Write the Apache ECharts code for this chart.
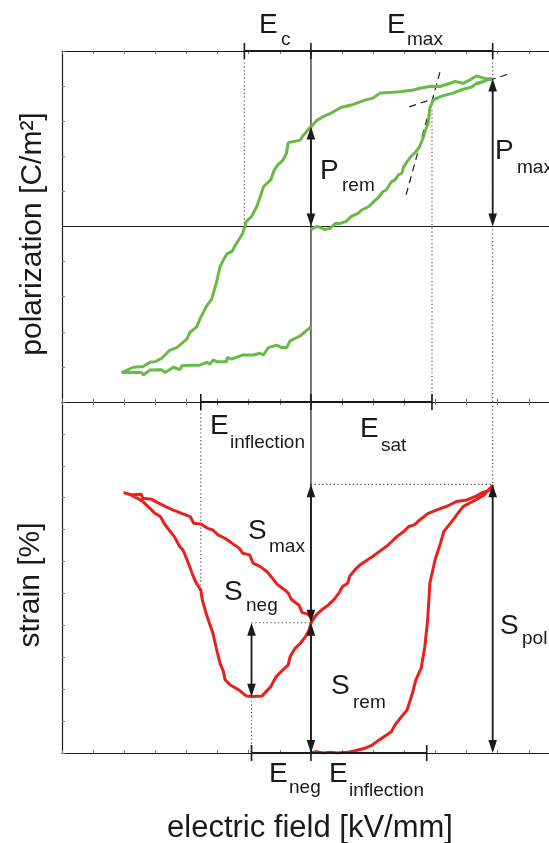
<!DOCTYPE html>
<html>
<head>
<meta charset="utf-8">
<script src="https://cdn.jsdelivr.net/npm/echarts@6/dist/echarts.min.js"></script>
<style>
html, body { margin: 0; padding: 0; background: #fff; }
#chart { width: 549px; height: 843px; }
</style>
</head>
<body>
<div id="chart"></div>
<script>
// field axis is in tick units (0 = E=0), polarization / strain also in tick units
// green P-E loop: start at origin, up to Emax, back to -Emax, back to 0
const polField = [0, 0.11, 0.22, 0.45, 0.62, 0.79, 0.90, 1.12, 1.29, 1.52, 1.63, 1.86, 2.02, 2.19, 2.31, 2.42, 2.59, 2.70, 2.81, 2.92,
  2.98, 3.09, 3.21, 3.37, 3.49, 3.60, 3.66, 3.77, 3.82, 3.93, 4.16, 4.36, 4.56, 4.89, 5.17, 5.32, 5.57, 5.81,
  5.64, 5.32, 5.11, 4.89, 4.63, 4.47, 4.14, 3.82, 3.50, 3.29, 2.86, 2.54, 2.22, 1.97, 1.74, 1.29, 0.96, 0.67, 0.39, 0.17, 0.06,
  -0.06, -0.28, -0.34, -0.73, -0.79, -0.90, -1.07, -1.18, -1.29, -1.52, -1.63, -1.74, -1.91, -2.08, -2.19, -2.42, -2.53, -2.70,
  -2.81, -2.92, -3.04, -3.19, -3.35, -3.57, -3.67, -3.89, -3.99, -4.31, -4.53, -4.80, -5.01, -5.17, -5.39, -5.71, -6.08,
  -5.44, -5.39, -5.17, -4.80, -4.69, -4.42, -4.21, -4.15, -3.89, -3.57, -3.35, -3.25, -3.14, -3.03, -2.71, -2.69, -2.55,
  -2.18, -1.85, -1.64, -1.53, -1.37, -1.10, -0.94, -0.78, -0.67, -0.35, 0];
const polValue = [-0.09, -0.03, 0, -0.09, -0.05, 0.09, 0.08, 0.14, 0.28, 0.38, 0.47, 0.57, 0.71, 0.85, 0.99, 1.04, 1.28, 1.33, 1.47, 1.52,
  1.70, 1.85, 1.99, 2.13, 2.27, 2.51, 2.70, 2.94, 3.37, 3.61, 3.70, 3.75, 3.80, 3.91, 3.97, 4.08, 4.14, 4.22,
  4.20, 4.29, 4.18, 4.08, 4.13, 4.08, 3.99, 3.99, 3.94, 3.89, 3.84, 3.82, 3.80, 3.65, 3.60, 3.46, 3.39, 3.24, 3.13, 3.01, 2.89,
  2.79, 2.56, 2.46, 2.39, 2.08, 1.89, 1.75, 1.61, 1.33, 1.14, 0.85, 0.57, 0.28, 0.14, -0.19, -0.52, -0.70, -0.78,
  -0.95, -1.14, -1.61, -2.07, -2.26, -2.64, -2.86, -3.02, -3.21, -3.45, -3.52, -3.76, -3.85, -3.87, -3.99, -4.01, -4.16,
  -4.16, -4.23, -4.09, -4.08, -4.16, -4.01, -4.08, -3.97, -3.95, -3.95, -3.87, -3.92, -3.80, -3.85, -3.85, -3.73, -3.78,
  -3.66, -3.66, -3.61, -3.66, -3.45, -3.38, -3.45, -3.45, -3.26, -3.12, -2.86];

// red S-E butterfly, same path order
const strainField = [0, 0.17, 0.39, 0.62, 0.84, 1.18, 1.41, 1.74, 1.97, 2.19, 2.42, 2.59, 2.70, 2.87, 3.09, 3.26, 3.37, 3.54, 3.66, 3.75,
  3.79, 3.82, 3.99, 4.16, 4.27, 4.44, 4.61, 4.72, 4.89, 5.06, 5.29, 5.57, 5.85,
  5.74, 5.46, 5.29, 5.01, 4.67, 4.39, 4.11, 3.77, 3.49, 3.32, 3.15, 2.98, 2.76, 2.59, 2.42, 2.19, 1.97, 1.74, 1.57, 1.41,
  1.24, 1.18, 1.01, 0.90, 0.73, 0.56, 0.34, 0.17, 0.06, 0, -0.06, -0.17, -0.34, -0.51, -0.67, -0.73, -0.96, -1.12, -1.29,
  -1.57, -1.86, -2.08, -2.31, -2.59, -2.76, -2.81, -2.92, -3.04, -3.15, -3.26, -3.37, -3.49, -3.54, -3.71, -3.82, -3.94,
  -4.11, -4.22, -4.39, -4.56, -4.72, -4.84, -5.01, -5.23, -5.40, -5.57, -5.79, -6.02,
  -5.74, -5.46, -5.40, -5.12, -4.89, -4.67, -4.44, -4.16, -3.88, -3.77, -3.54, -3.32, -3.15, -2.98, -2.76, -2.53, -2.31,
  -2.19, -1.97, -1.86, -1.63, -1.41, -1.24, -1.07, -0.84, -0.73, -0.62, -0.39, -0.28, -0.11, 0];
const strainValue = [0, 0.04, 0, 0.02, 0, 0.02, 0.07, 0.15, 0.25, 0.41, 0.56, 0.67, 0.88, 1.09, 1.35, 1.87, 2.29, 2.65, 3.33, 4.17,
  4.80, 5.32, 6.05, 6.57, 6.94, 7.15, 7.36, 7.51, 7.72, 7.81, 7.93, 8.09, 8.40,
  8.24, 8.14, 8.04, 7.93, 7.88, 7.74, 7.64, 7.51, 7.30, 7.15, 7.10, 6.94, 6.78, 6.62, 6.47, 6.31, 6.15, 6.00, 5.89, 5.74,
  5.53, 5.32, 5.21, 5.01, 4.80, 4.64, 4.48, 4.33, 4.17, 4.06, 3.86, 3.65, 3.44, 3.28, 3.02, 2.76, 2.55, 2.39, 2.08,
  1.79, 1.77, 1.79, 1.97, 2.13, 2.29, 2.55, 2.81, 3.28, 3.75, 4.06, 4.38, 4.80, 5.11, 5.37, 5.63, 5.95,
  6.36, 6.47, 6.78, 6.99, 7.20, 7.41, 7.51, 7.72, 7.88, 7.98, 8.09, 8.16,
  8.09, 8.11, 7.98, 7.95, 7.83, 7.72, 7.62, 7.51, 7.41, 7.20, 7.18, 7.04, 6.99, 6.83, 6.73, 6.57, 6.42,
  6.26, 6.21, 5.95, 5.84, 5.68, 5.48, 5.27, 5.11, 5.01, 4.80, 4.64, 4.40, 4.36, 4.27];

// characteristic values marked in the figure
const E_C = -2.14, E_MAX = 5.84, E_SAT = 3.89;
const E_INFL_NEG = -3.54, E_INFL_POS = 3.72, E_NEG = -1.91;
const P_REM = 2.85, P_MAX = 4.22, P_KNEE = 3.32;
const S_MAX = 8.42, S_MID = 4.08, S_NEG = 1.76, S_INFL = 4.89;
const tangentSteep = [3.06, 0.91, 4.18, 4.51];
const tangentFlat = [3.16, 3.41, 6.44, 4.37];

// the field axis runs past the right edge of the picture (frame is cut off there)
const FIELD_MIN = -8, FIELD_MAX = 7.65;

const INK = '#1a1a1a';
const FONT = '"Liberation Sans", Arial, sans-serif';

const zip = (a, b) => a.map((v, i) => [v, b[i]]);

const lineStyles = {
  dotted: { stroke: '#444', lineWidth: 1.1, lineDash: [1.2, 2.6] },
  dashed: { stroke: INK, lineWidth: 1.2, lineDash: [7, 5] },
  thin: { stroke: INK, lineWidth: 1.2 },
  bracket: { stroke: INK, lineWidth: 2.2 },
  arrow: { stroke: INK, lineWidth: 1.8 }
};

function head(tip, from) {
  const dx = tip[0] - from[0], dy = tip[1] - from[1];
  const len = Math.hypot(dx, dy) || 1;
  const ux = dx / len, uy = dy / len;
  const L = 13, W = 4.3;
  const bx = tip[0] - ux * L, by = tip[1] - uy * L;
  return {
    type: 'polygon',
    shape: { points: [[tip[0], tip[1]], [bx - uy * W, by + ux * W], [bx + uy * W, by - ux * W]] },
    style: { fill: INK }
  };
}

function segs(grid, kind, data, z) {
  return {
    type: 'custom', xAxisIndex: grid * 2, yAxisIndex: grid, z: z, silent: true,
    data: data,
    renderItem: function (params, api) {
      if (kind === 'tick') {
        const p = api.coord([api.value(0), api.value(1)]);
        return { type: 'line', shape: { x1: p[0], y1: p[1] - 8, x2: p[0], y2: p[1] + 8 },
          style: { stroke: INK, lineWidth: 1.6 } };
      }
      const a = api.coord([api.value(0), api.value(1)]);
      const b = api.coord([api.value(2), api.value(3)]);
      if (kind !== 'arrow') {
        return { type: 'line', shape: { x1: a[0], y1: a[1], x2: b[0], y2: b[1] }, style: lineStyles[kind] };
      }
      const len = Math.hypot(b[0] - a[0], b[1] - a[1]) || 1;
      const ux = (b[0] - a[0]) / len, uy = (b[1] - a[1]) / len;
      return {
        type: 'group',
        children: [
          { type: 'line', shape: { x1: a[0] + ux * 6, y1: a[1] + uy * 6, x2: b[0] - ux * 6, y2: b[1] - uy * 6 },
            style: lineStyles.arrow },
          head(a, b), head(b, a)
        ]
      };
    }
  };
}

function xAx(grid, pos) {
  return {
    gridIndex: grid, type: 'value', position: pos, min: FIELD_MIN, max: FIELD_MAX, interval: 1,
    axisLine: { show: true, onZero: false, lineStyle: { color: INK, width: 1.2 } },
    axisTick: { show: true, inside: true, length: 3, lineStyle: { color: '#777' } },
    axisLabel: { show: false }, splitLine: { show: false }
  };
}
function yAx(grid, min, max) {
  return {
    gridIndex: grid, type: 'value', min: min, max: max, interval: 1,
    axisLine: { show: true, onZero: false, lineStyle: { color: INK, width: 1.2 } },
    axisTick: { show: true, inside: true, length: 3, lineStyle: { color: '#777' } },
    axisLabel: { show: false }, splitLine: { show: false }
  };
}

// subscripted symbols: [main, sub, x, y, subX, subY]
const symbolLabels = [
  ['E', 'c', 259, 25, 281, 40],
  ['E', 'max', 387, 25, 407, 40],
  ['P', 'rem', 320, 171, 342, 186],
  ['P', 'max', 495, 151, 517, 168],
  ['E', 'inflection', 210, 426, 230, 443],
  ['E', 'sat', 360, 429, 381, 446],
  ['S', 'max', 248, 531, 269, 547],
  ['S', 'neg', 224, 592, 246, 606],
  ['S', 'rem', 331, 686, 353, 703],
  ['S', 'pol', 500, 626, 522, 639],
  ['E', 'neg', 269, 774, 289, 788],
  ['E', 'inflection', 329, 774, 349, 791]
];

const graphic = [];
symbolLabels.forEach(function (s) {
  graphic.push({ type: 'text', x: s[2], y: s[3], silent: true,
    style: { text: s[0], font: '28px ' + FONT, fill: INK, align: 'left', verticalAlign: 'middle',
      textAlign: 'left', textVerticalAlign: 'middle' } });
  graphic.push({ type: 'text', x: s[4], y: s[5], silent: true,
    style: { text: s[1], font: '19px ' + FONT, fill: INK, align: 'left', verticalAlign: 'middle',
      textAlign: 'left', textVerticalAlign: 'middle' } });
});
[['polarization [C/m²]', 33, 234, Math.PI / 2, 30], ['strain [%]', 31, 585, Math.PI / 2, 30],
 ['electric field [kV/mm]', 310, 828, 0, 31]].forEach(function (t) {
  graphic.push({ type: 'text', x: t[1], y: t[2], rotation: t[3], silent: true,
    style: { text: t[0], font: t[4] + 'px ' + FONT, fill: INK, align: 'center', verticalAlign: 'middle',
      textAlign: 'center', textVerticalAlign: 'middle' } });
});

const chart = echarts.init(document.getElementById('chart'), null, { renderer: 'canvas' });
chart.setOption({
  animation: false,
  backgroundColor: '#fff',
  grid: [
    { left: 62, top: 51, right: 0, height: 351 },
    { left: 62, top: 402, right: 0, height: 351 }
  ],
  xAxis: [xAx(0, 'bottom'), xAx(0, 'top'), xAx(1, 'bottom'), xAx(1, 'top')],
  yAxis: [yAx(0, -5, 5), yAx(1, 0, 11)],
  series: [
    // polarization panel guides
    segs(0, 'dotted', [[E_C, 5, E_C, 0], [E_SAT, P_KNEE, E_SAT, -5], [E_MAX, 5, E_MAX, -5]], 1),
    segs(0, 'thin', [[0, 5, 0, -5], [FIELD_MIN, 0, FIELD_MAX, 0]], 1),
    segs(0, 'dashed', [tangentSteep, tangentFlat], 1),
    {
      type: 'line', xAxisIndex: 0, yAxisIndex: 0, data: zip(polField, polValue),
      showSymbol: false, symbol: 'none', z: 2, silent: true,
      lineStyle: { color: '#66bb44', width: 3 }
    },
    segs(0, 'arrow', [[0, 0, 0, P_REM], [E_MAX, 0, E_MAX, P_MAX]], 3),
    segs(0, 'bracket', [[E_C, 5, 0, 5], [0, 5, E_MAX, 5]], 3),
    segs(0, 'tick', [[E_C, 5], [0, 5], [E_MAX, 5]], 3),

    // strain panel guides
    segs(1, 'dotted', [[E_INFL_NEG, 11, E_INFL_NEG, S_INFL], [0, S_MAX, E_MAX, S_MAX], [E_MAX, 11, E_MAX, S_MAX],
      [E_NEG, S_MID, 0, S_MID], [E_NEG, S_NEG, E_NEG, 0]], 1),
    segs(1, 'thin', [[0, 11, 0, 0]], 1),
    {
      type: 'line', xAxisIndex: 2, yAxisIndex: 1, data: zip(strainField, strainValue),
      showSymbol: false, symbol: 'none', z: 2, silent: true,
      lineStyle: { color: '#e8211d', width: 3 }
    },
    segs(1, 'arrow', [[0, S_MID, 0, S_MAX], [0, 0, 0, S_MID], [E_NEG, S_NEG, E_NEG, S_MID], [E_MAX, 0, E_MAX, S_MAX]], 3),
    segs(1, 'bracket', [[E_INFL_NEG, 11, 0, 11], [0, 11, E_SAT, 11], [E_NEG, 0, 0, 0], [0, 0, E_INFL_POS, 0]], 3),
    segs(1, 'tick', [[E_INFL_NEG, 11], [0, 11], [E_SAT, 11], [E_NEG, 0], [0, 0], [E_INFL_POS, 0]], 3)
  ],
  graphic: graphic
});
</script>
</body>
</html>
